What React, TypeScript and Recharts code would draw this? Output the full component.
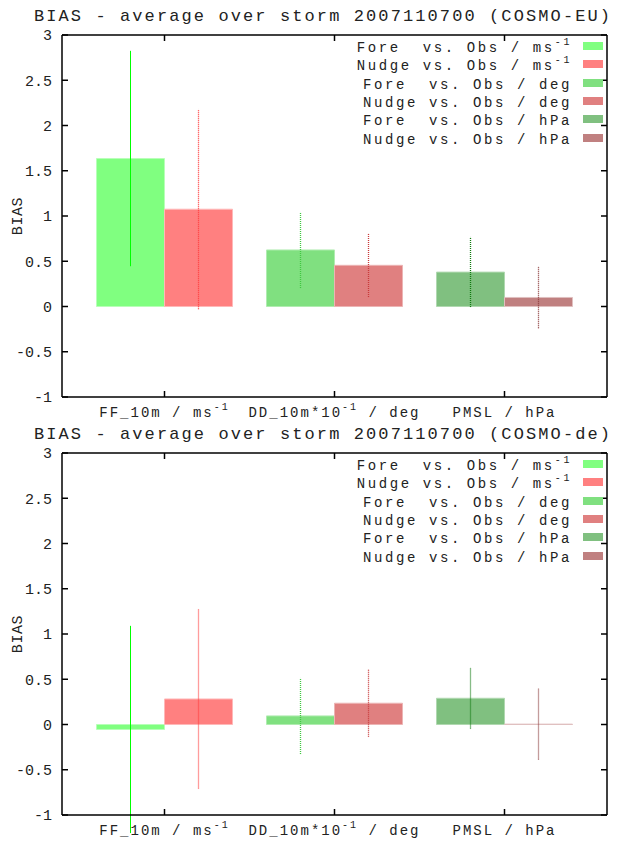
import { BarChart, Bar, XAxis, YAxis, ErrorBar, Cell, Legend } from 'recharts';

const categories = ['FF_10m', 'DD_10m', 'PMSL'];
const tickMain = ['FF_10m / ms', 'DD_10m*10', 'PMSL / hPa'];
const tickSup = ['-1', '-1', ''];
const tickTail = ['', ' / deg', ''];
const yTicks = [-1, -0.5, 0, 0.5, 1, 1.5, 2, 2.5, 3];

// COSMO-EU
const euFore = [1.635, 0.625, 0.38];
const euForeErr = [1.19, 0.42, 0.385];
const euNudge = [1.075, 0.455, 0.1];
const euNudgeErr = [1.105, 0.35, 0.34];

// COSMO-de
const deFore = [-0.055, 0.095, 0.29];
const deForeErr = [1.145, 0.42, 0.335];
const deNudge = [0.282, 0.235, 0.004];
const deNudgeErr = [0.99, 0.37, 0.39];

const legendTitles = ['Fore  vs. Obs / ms', 'Nudge vs. Obs / ms', 'Fore  vs. Obs / deg', 'Nudge vs. Obs / deg', 'Fore  vs. Obs / hPa', 'Nudge vs. Obs / hPa'];
const legendSup = ['-1', '-1', '', '', '', ''];

const foreFill = ['#80ff80', '#80e080', '#80c080'];
const nudgeFill = ['#ff8080', '#e08080', '#c08080'];
const foreEdge = ['#b8ffb8', '#b0ecb0', '#b0d8b0'];
const nudgeEdge = ['#ffb8b8', '#ecb4b4', '#e0c0c0'];
const foreLine = ['#00ff00', '#40c840', '#107a10'];
const nudgeLine = ['#ff3a3a', '#c83a3a', '#8a3a3a'];
const legendFill = [foreFill[0], nudgeFill[0], foreFill[1], nudgeFill[1], foreFill[2], nudgeFill[2]];

const MONO = "'Liberation Mono', monospace";

function buildRows(fore: number[], foreErr: number[], nudge: number[], nudgeErr: number[]) {
  return categories.map((cat, i) => {
    const row: Record<string, any> = { cat, fore: fore[i], nudge: nudge[i] };
    row['fe' + i] = foreErr[i];
    row['ne' + i] = nudgeErr[i];
    return row;
  });
}

const XTick = (props: any) => {
  const { x, y, index } = props;
  return (
    <text x={x} y={y + 26} textAnchor="middle" fontFamily={MONO} fontSize={14} letterSpacing={2} fill="#222">
      <tspan>{tickMain[index]}</tspan>
      {tickSup[index] && <tspan dy={-7} fontSize={10}>{tickSup[index]}</tspan>}
      {tickTail[index] && <tspan dy={7}>{tickTail[index]}</tspan>}
    </text>
  );
};

const NoTick = () => <g />;

const LegendBox = () => (
  <div style={{ fontFamily: MONO, fontSize: 14, letterSpacing: 2.6, color: '#222' }}>
    {legendTitles.map((t, i) => (
      <div key={i} style={{ display: 'flex', justifyContent: 'flex-end', alignItems: 'center', height: 18.3, whiteSpace: 'pre' }}>
        <span style={{ position: 'relative', top: 2 }}>
          {t}
          {legendSup[i] && <span style={{ fontSize: 10, position: 'relative', top: -7 }}>{legendSup[i]}</span>}
        </span>
        <span style={{ display: 'inline-block', width: 20, height: 8, marginLeft: 11, background: legendFill[i] }} />
      </div>
    ))}
  </div>
);

function BiasChart({ title, rows, top }: { title: string; rows: Record<string, any>[]; top: number }) {
  return (
    <div style={{ position: 'absolute', left: 0, top, width: 628, height: 420 }}>
      <div style={{ position: 'absolute', left: 9, top: 8, width: 628, textAlign: 'center', fontFamily: MONO, fontSize: 17, lineHeight: '17px', letterSpacing: 2.1, color: '#222', whiteSpace: 'pre' }}>
        {title}
      </div>
      <BarChart width={628} height={420} data={rows} margin={{ top: 34, right: 20, bottom: 1, left: 0 }} barGap={0} barSize={68}>
        <XAxis dataKey="cat" height={22} padding={{ left: 17.5, right: 17.5 }} tickSize={-6} tickMargin={0}
          axisLine={{ stroke: '#000', strokeWidth: 1.5 }} tickLine={{ stroke: '#000', strokeWidth: 1.5 }} tick={<XTick />} />
        <XAxis xAxisId="top" dataKey="cat" orientation="top" height={1} padding={{ left: 17.5, right: 17.5 }} tickSize={-6}
          axisLine={{ stroke: '#000', strokeWidth: 1.5 }} tickLine={{ stroke: '#000', strokeWidth: 1.5 }} tick={<NoTick />} />
        <YAxis width={62} domain={[-1, 3]} ticks={yTicks} allowDataOverflow interval={0} tickSize={-6} tickMargin={16}
          axisLine={{ stroke: '#000', strokeWidth: 1.5 }} tickLine={{ stroke: '#000', strokeWidth: 1.5 }}
          tick={{ fontFamily: MONO, fontSize: 15, fill: '#222' }}
          label={({ viewBox }: any) => (
            <text x={viewBox.x + 18} y={viewBox.y + viewBox.height / 2} textAnchor="middle" dominantBaseline="central"
              transform={`rotate(-90, ${viewBox.x + 18}, ${viewBox.y + viewBox.height / 2})`}
              fontFamily={MONO} fontSize={15} letterSpacing={0.6} fill="#222">BIAS</text>
          )} />
        <YAxis yAxisId="right" orientation="right" width={1} domain={[-1, 3]} ticks={yTicks} allowDataOverflow interval={0} tickSize={-6}
          axisLine={{ stroke: '#000', strokeWidth: 1.5 }} tickLine={{ stroke: '#000', strokeWidth: 1.5 }} tick={<NoTick />} />
        <Legend layout="horizontal" verticalAlign="middle" align="center" content={<LegendBox />}
          wrapperStyle={{ top: 37, right: 25, left: 'auto', width: 'auto' }} />
        <Bar dataKey="fore" isAnimationActive={false} strokeWidth={1}>
          {rows.map((_, i) => <Cell key={i} fill={foreFill[i]} stroke={foreEdge[i]} />)}
          {categories.map((_, i) => (
            <ErrorBar key={'fe' + i} dataKey={'fe' + i} width={0} stroke={foreLine[i]} strokeWidth={i === 0 ? 1 : 1.3}
              strokeDasharray={i === 0 ? undefined : '1 1'} />
          ))}
        </Bar>
        <Bar dataKey="nudge" isAnimationActive={false} strokeWidth={1}>
          {rows.map((_, i) => <Cell key={i} fill={nudgeFill[i]} stroke={nudgeEdge[i]} />)}
          {categories.map((_, i) => (
            <ErrorBar key={'ne' + i} dataKey={'ne' + i} width={0} stroke={nudgeLine[i]} strokeWidth={1.3} strokeDasharray="1 1" />
          ))}
        </Bar>
      </BarChart>
    </div>
  );
}

export default function App() {
  const euRows = buildRows(euFore, euForeErr, euNudge, euNudgeErr);
  const deRows = buildRows(deFore, deForeErr, deNudge, deNudgeErr);
  return (
    <div style={{ position: 'absolute', left: 0, top: 0, width: 628, height: 841, background: '#fff' }}>
      <BiasChart title="BIAS - average over storm 2007110700 (COSMO-EU)" rows={euRows} top={0} />
      <BiasChart title="BIAS - average over storm 2007110700 (COSMO-de)" rows={deRows} top={418} />
    </div>
  );
}
